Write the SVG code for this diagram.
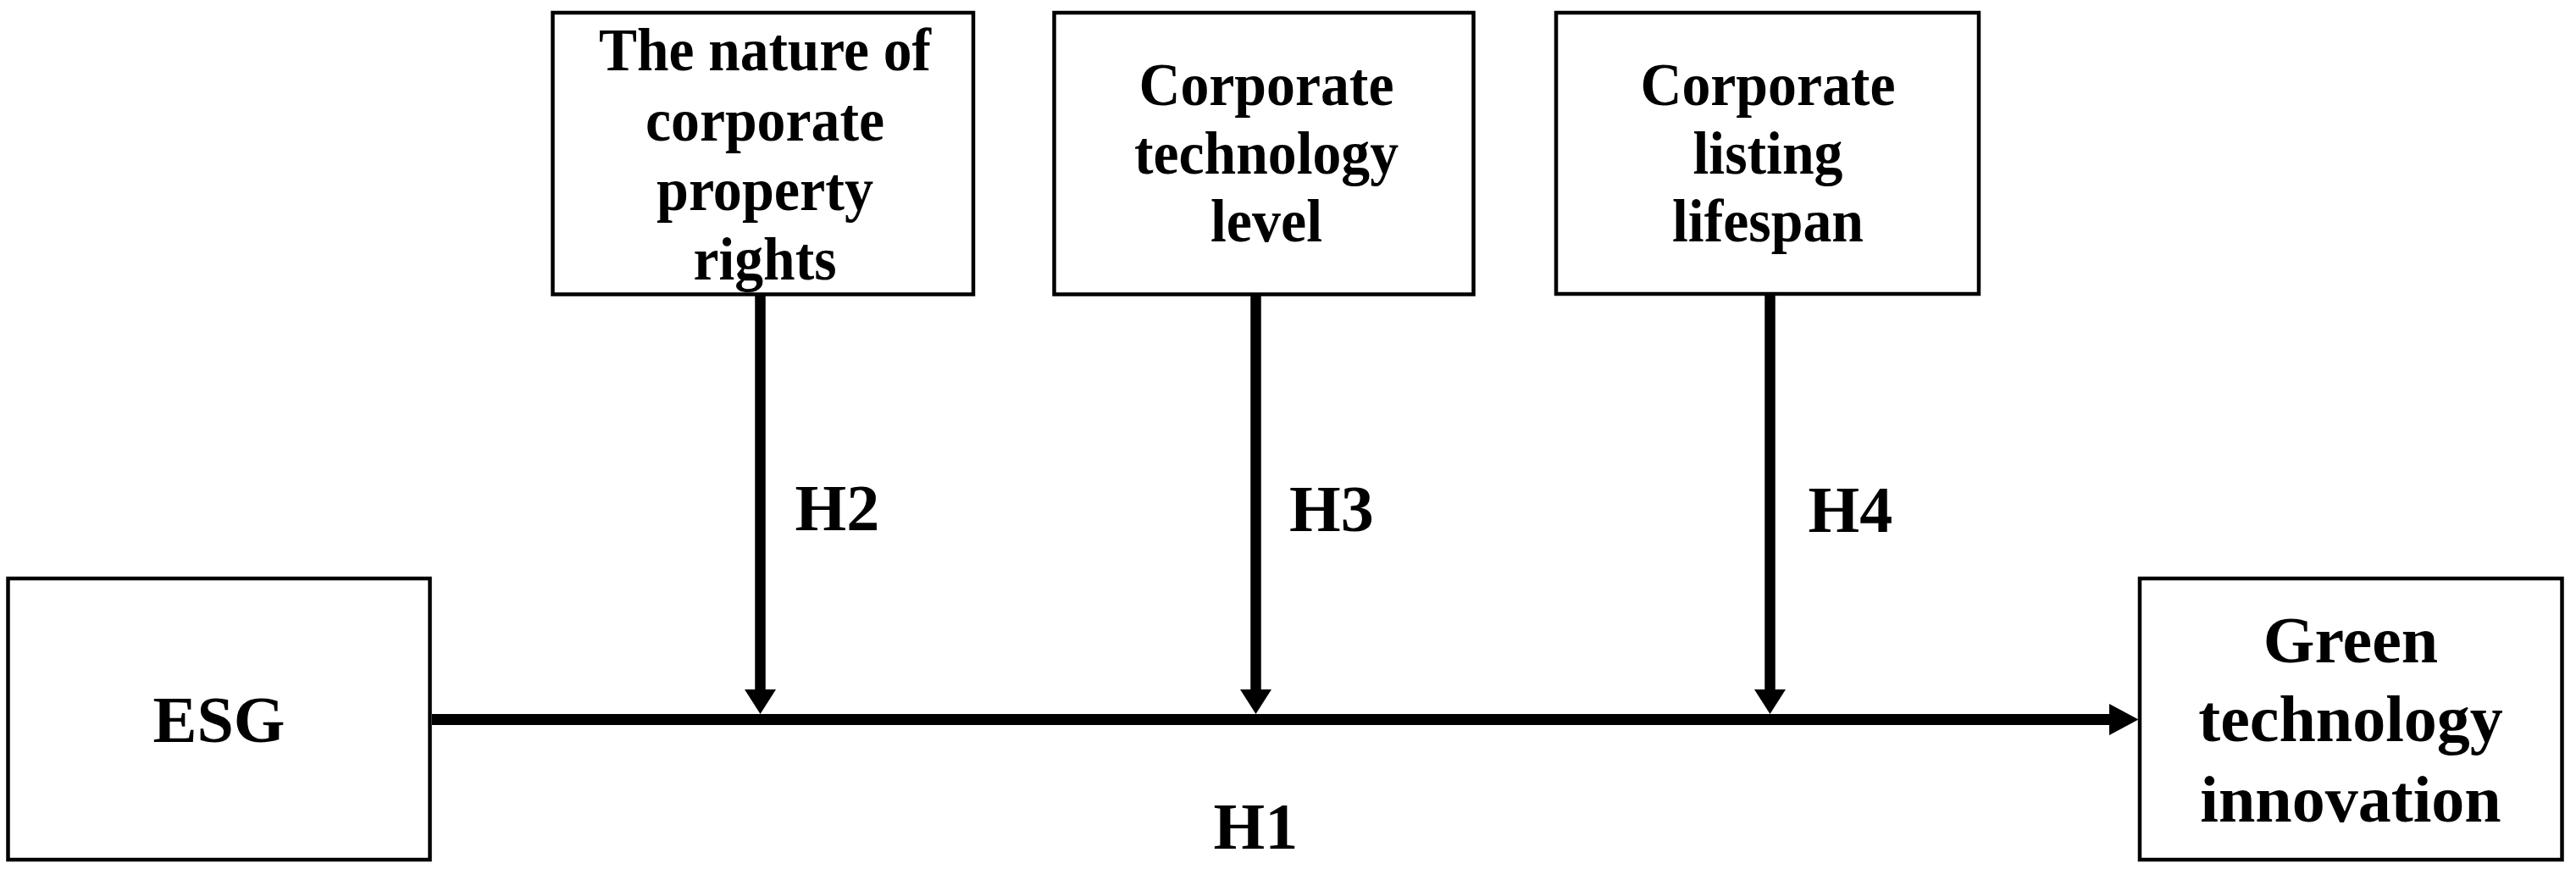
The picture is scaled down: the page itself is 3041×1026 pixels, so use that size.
<svg xmlns="http://www.w3.org/2000/svg" width="3041" height="1026" viewBox="0 0 3041 1026">
<style>
  .box { fill: #ffffff; stroke: #000000; stroke-width: 4.5; }
  .t { font-family: "Liberation Serif", "Times New Roman", serif; font-weight: bold; fill: #000000; }
  .big { font-size: 78px; }
  .mod { font-size: 72px; }
  .mid { text-anchor: middle; }
  .vline { stroke: #000000; stroke-width: 12.5; fill: none; }
  .hline { stroke: #000000; stroke-width: 13; fill: none; }
</style>
<defs>
  <marker id="arrV" markerUnits="userSpaceOnUse" viewBox="0 0 29 37" refX="0" refY="18.5" markerWidth="29" markerHeight="37" orient="auto">
    <path d="M0,0 L29,18.5 L0,37 Z" fill="#000000"/>
  </marker>
  <marker id="arrH" markerUnits="userSpaceOnUse" viewBox="0 0 34.5 37" refX="0" refY="18.5" markerWidth="34.5" markerHeight="37" orient="auto">
    <path d="M0,0 L34.5,18.5 L0,37 Z" fill="#000000"/>
  </marker>
</defs>
<rect x="0" y="0" width="3041" height="1026" fill="#ffffff"/>

<g id="connectors">
  <path class="hline" d="M510,849.5 L2490,849.5" marker-end="url(#arrH)"/>
  <path class="vline" d="M897.5,349 L897.5,814" marker-end="url(#arrV)"/>
  <path class="vline" d="M1482.5,349 L1482.5,814" marker-end="url(#arrV)"/>
  <path class="vline" d="M2089.5,349 L2089.5,814" marker-end="url(#arrV)"/>
</g>

<g id="node-esg">
  <rect class="box" x="9.5" y="683" width="498" height="332"/>
  <text class="t big mid" x="258.5" y="876">ESG</text>
</g>

<g id="node-green">
  <rect class="box" x="2526" y="683" width="498.5" height="332"/>
  <text class="t big mid" x="2775" y="781.7">Green</text>
  <text class="t big mid" x="2775" y="875">technology</text>
  <text class="t big mid" x="2775" y="970">innovation</text>
</g>

<g id="node-property">
  <rect class="box" x="652.5" y="15" width="496.5" height="332.5"/>
  <text class="t mod mid" x="903" y="83" textLength="392" lengthAdjust="spacingAndGlyphs">The nature of</text>
  <text class="t mod mid" x="903" y="165.5" textLength="282" lengthAdjust="spacingAndGlyphs">corporate</text>
  <text class="t mod mid" x="903" y="248" textLength="256" lengthAdjust="spacingAndGlyphs">property</text>
  <text class="t mod mid" x="903" y="330" textLength="169" lengthAdjust="spacingAndGlyphs">rights</text>
</g>

<g id="node-tech">
  <rect class="box" x="1244.5" y="15" width="495" height="332.5"/>
  <text class="t mod mid" x="1495" y="124" textLength="301" lengthAdjust="spacingAndGlyphs">Corporate</text>
  <text class="t mod mid" x="1495" y="204.5" textLength="312" lengthAdjust="spacingAndGlyphs">technology</text>
  <text class="t mod mid" x="1495" y="285" textLength="132" lengthAdjust="spacingAndGlyphs">level</text>
</g>

<g id="node-lifespan">
  <rect class="box" x="1837" y="15" width="499" height="332"/>
  <text class="t mod mid" x="2087" y="124" textLength="301" lengthAdjust="spacingAndGlyphs">Corporate</text>
  <text class="t mod mid" x="2087" y="204.5" textLength="177" lengthAdjust="spacingAndGlyphs">listing</text>
  <text class="t mod mid" x="2087" y="285" textLength="226" lengthAdjust="spacingAndGlyphs">lifespan</text>
</g>

<g id="labels">
  <text class="t big" x="938.5" y="626">H2</text>
  <text class="t big" x="1522" y="627">H3</text>
  <text class="t big" x="2134.5" y="628">H4</text>
  <text class="t big" x="1432.5" y="1001.5">H1</text>
</g>
</svg>
